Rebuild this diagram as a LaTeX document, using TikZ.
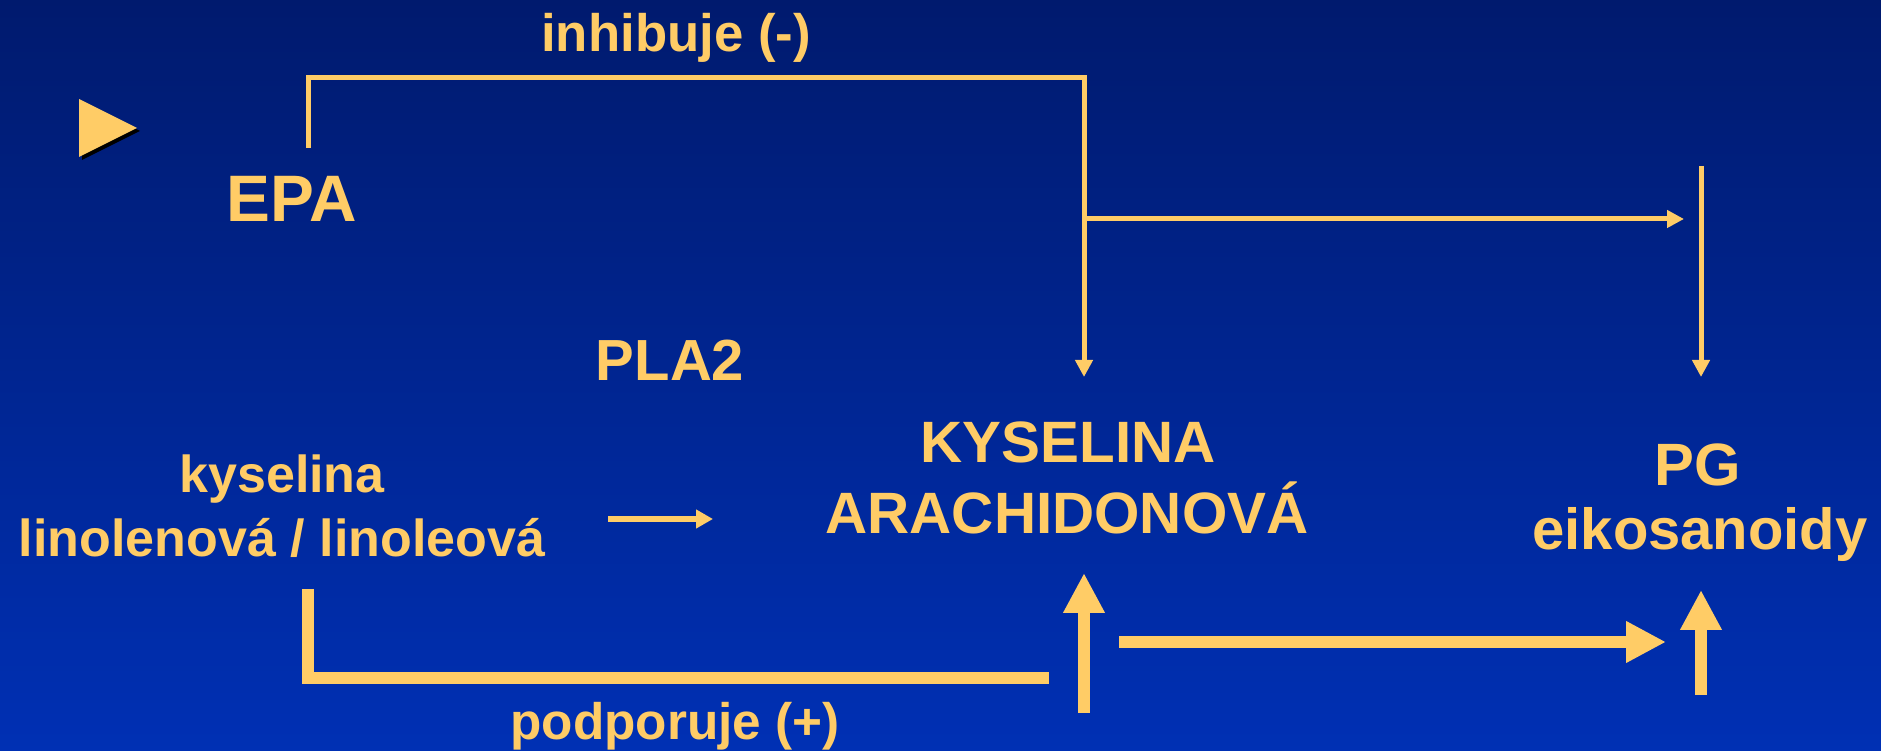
\documentclass[tikz,border=0pt]{standalone}
\usepackage{fontspec}
\setmainfont{Liberation Sans}
\usetikzlibrary{arrows.meta,positioning}
\definecolor{slidetop}{RGB}{0,26,110}
\definecolor{slidebottom}{RGB}{0,48,180}
\definecolor{labelgold}{RGB}{255,204,102}

\begin{document}
\begin{tikzpicture}[
    x=0.1mm, y=-0.1mm,
    lbl/.style={text=labelgold,font=\bfseries\fontsize{#1}{#1}\selectfont,
      anchor=base,inner sep=0pt},
    thinline/.style={draw=labelgold,line width=0.5mm},
    thinarrow/.style={thinline,-{Triangle[width=1.7mm,length=1.7mm]}},
    fatline/.style={draw=labelgold,line width=1.25mm},
    fatarrow/.style={fatline,-{Triangle[width=3.9mm,length=4mm]}}
  ]
    \useasboundingbox (0,0) rectangle (1881,751);
    \shade[top color=slidetop,bottom color=slidebottom] (0,0) rectangle (1881,751);

    % bullet
    \fill[black] (82,102) -- (140,131) -- (82,160) -- cycle;
    \fill[labelgold] (79,99) -- (137,128) -- (79,157) -- cycle;

    \node[lbl=15] (inh) at (676,52) {inhibuje (-)};
    \node[lbl=18.7] (epa) at (292,222) {EPA};
    \node[lbl=16.5] (pla) at (670,381) {PLA2};
    \node[lbl=14.8] (ky) at (282,493) {kyselina};
    \node[lbl=14.8] (lino) at (282,557) {linolenová / linoleová};
    \node[lbl=16.6] (aa1) at (1068,463) {KYSELINA};
    \node[lbl=16.6] (aa2) at (1067,534) {ARACHIDONOVÁ};
    \node[lbl=17] (pg) at (1698,486) {PG};
    \node[lbl=16.5] (eiko) at (1700,550) {eikosanoidy};
    \node[lbl=14.6] (podp) at (675,740) {podporuje (+)};

    \coordinate (epaStem) at (308,148);
    \coordinate (inhCorner) at (1084,78);
    \coordinate (aaIn) at (1084,377);
    \coordinate (branch) at (1084,219);
    \coordinate (branchEnd) at (1684,219);
    \coordinate (pgStem) at (1701,166);
    \coordinate (pgIn) at (1701,377);
    \coordinate (linoOut) at (608,519);
    \coordinate (aaLeft) at (713,519);
    \coordinate (linoStem) at (308,589);
    \coordinate (podpEnd) at (1049,678);
    \coordinate (aaBase) at (1084,713);
    \coordinate (aaUp) at (1084,573);
    \coordinate (aaRight) at (1119,642);
    \coordinate (pgLeft) at (1666,642);
    \coordinate (pgBase) at (1701,695);
    \coordinate (pgUp) at (1701,590);

    % inhibition from EPA
    \draw[thinarrow] (epaStem) |- (inhCorner) -- (aaIn);
    \draw[thinarrow] (branch) -- (branchEnd);
    \draw[thinarrow] (pgStem) -- (pgIn);
    \draw[draw=labelgold,line width=0.6mm,-{Triangle[width=1.8mm,length=1.7mm]}] (linoOut) -- (aaLeft);

    % support from linolenic acid
    \draw[fatline] (linoStem) |- (podpEnd);
    \draw[fatarrow] (aaBase) -- (aaUp);
    \draw[fatarrow] (aaRight) -- (pgLeft);
    \draw[fatarrow] (pgBase) -- (pgUp);
  \end{tikzpicture}
\end{document}
